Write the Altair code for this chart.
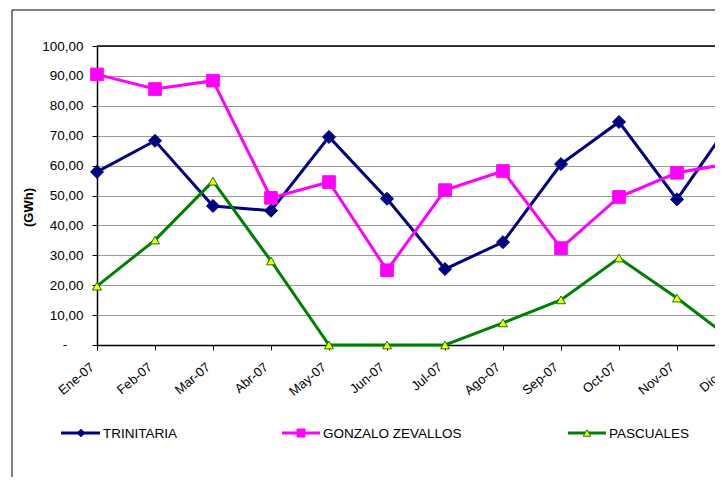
import altair as alt
import pandas as pd

months = ["Ene-07", "Feb-07", "Mar-07", "Abr-07", "May-07", "Jun-07",
          "Jul-07", "Ago-07", "Sep-07", "Oct-07", "Nov-07", "Dic-07"]
trinitaria = [57.9, 68.3, 46.5, 44.9, 69.6, 48.9, 25.4, 34.4, 60.5, 74.6, 48.7, 76.5]
gonzalo = [90.5, 85.6, 88.4, 49.2, 54.5, 25.0, 51.8, 58.2, 32.4, 49.5, 57.6, 61.0]
pascuales = [19.7, 35.1, 54.8, 28.1, 0.0, 0.0, 0.0, 7.4, 15.1, 29.1, 15.7, 1.0]
series_names = ["TRINITARIA", "GONZALO ZEVALLOS", "PASCUALES"]
y_ticks = [0, 10, 20, 30, 40, 50, 60, 70, 80, 90, 100]

values = [trinitaria, gonzalo, pascuales]
df = pd.DataFrame([
    {"series": s, "idx": i, "month": m, "value": v}
    for s, vals in zip(series_names, values)
    for i, (m, v) in enumerate(zip(months, vals))
])

styles = {
    "TRINITARIA": dict(color="#000080", shape="diamond", fill="#000080", stroke="#000080", size=170, lsize=60),
    "GONZALO ZEVALLOS": dict(color="#FF00FF", shape="square", fill="#FF00FF", stroke="#FF00FF", size=160, lsize=64),
    "PASCUALES": dict(color="#008000", shape="triangle-up", fill="#FFFF00", stroke="#008000", size=80, lsize=55),
}
# legend layout (pixels relative to plot origin)
legend_pos = {
    "TRINITARIA": (-36, 3, -16, 6),
    "GONZALO ZEVALLOS": (185, 223, 204, 226),
    "PASCUALES": (471, 509, 490, 512),
}
LEG_Y = 387

FONT = "Liberation Sans"
W, H = 618, 299
STEP = 58.0  # pixels per month in the reference; the chart is cut at the right
X_RANGE = STEP * (len(months) - 1)

month_expr = "[" + ",".join("'%s'" % m for m in months) + "][datum.value]"

x_enc = alt.X("idx:Q",
              scale=alt.Scale(domain=[0, len(months) - 1], range=[0, X_RANGE],
                              nice=False, zero=False),
              axis=alt.Axis(title=None, values=list(range(len(months))),
                            labelExpr=month_expr,
                            labelAngle=320, labelAlign="right",
                            labelBaseline="middle", labelPadding=15, labelOffset=-5,
                            labelFont=FONT, labelFontSize=13, labelColor="black",
                            labelOverlap=False, labelBound=False, labelFlush=False,
                            tickColor="black", tickSize=5, domainColor="black",
                            domainWidth=1.5, grid=False))
y_enc = alt.Y("value:Q", scale=alt.Scale(domain=[0, 100], nice=False),
              axis=alt.Axis(values=y_ticks, title="(GWh)", titleFont=FONT,
                            titleFontSize=13, titleFontWeight="bold",
                            titleColor="black", titleAngle=270,
                            titleX=-69, titleY=161, titleBaseline="middle",
                            titleAlign="center",
                            labelExpr="datum.value == 0 ? '' : replace(format(datum.value, '.2f'), '.', ',')",
                            labelFont=FONT, labelFontSize=13.5, labelColor="black",
                            labelPadding=9, tickColor="black", tickSize=5,
                            domainColor="black", domainWidth=1.5,
                            grid=True, gridColor="#999999", gridWidth=1))

dummy = pd.DataFrame({"a": [0]})
layers = []

for s in series_names:
    st = styles[s]
    sub = alt.Chart(df).transform_filter(alt.datum.series == s)
    line = sub.mark_line(color=st["color"], strokeWidth=3).encode(x=x_enc, y=y_enc, order="idx:Q")
    pts = sub.mark_point(shape=st["shape"], filled=True, fill=st["fill"],
                         stroke=st["stroke"], strokeWidth=1, size=st["size"],
                         opacity=1).encode(x=x_enc, y=y_enc)
    layers += [line, pts]

# zero label of the y axis, drawn as "-" (accounting format), set left of the numbers
layers.append(alt.Chart(dummy).mark_text(text="-", align="center", baseline="middle",
                                         font=FONT, fontSize=13.5, color="black", clip=False)
              .encode(x=alt.value(-32), y=alt.value(H)))

# outer chart border
layers.append(alt.Chart(dummy).mark_rect(fill=None, stroke="black", strokeWidth=1, clip=False)
              .encode(x=alt.value(-85), x2=alt.value(W + 40), y=alt.value(-36), y2=alt.value(700)))

# top border of the plot area
layers.append(alt.Chart(dummy).mark_rule(color="black", strokeWidth=1.5, clip=False)
              .encode(x=alt.value(0), x2=alt.value(W + 20), y=alt.value(0)))

# legend
for s in series_names:
    st = styles[s]
    x1, x2, xm, xt = legend_pos[s]
    layers.append(alt.Chart(dummy).mark_rule(color=st["color"], strokeWidth=3, clip=False)
                  .encode(x=alt.value(x1), x2=alt.value(x2), y=alt.value(LEG_Y)))
    layers.append(alt.Chart(dummy).mark_point(shape=st["shape"], filled=True, fill=st["fill"],
                                              stroke=st["stroke"], strokeWidth=1, size=st["lsize"],
                                              opacity=1, clip=False)
                  .encode(x=alt.value(xm), y=alt.value(LEG_Y)))
    layers.append(alt.Chart(dummy).mark_text(text=s, align="left", baseline="middle",
                                             font=FONT, fontSize=13.5, color="black", clip=False)
                  .encode(x=alt.value(xt), y=alt.value(LEG_Y + 1)))

chart = alt.layer(*layers).properties(
    width=W, height=H,
    padding={"left": 89, "top": 38, "right": 0, "bottom": 132},
    autosize=alt.AutoSizeParams(type="none"),
    background="white",
).configure_view(stroke=None)

chart.save("out.html", embed_options={"renderer": "svg", "actions": False})
